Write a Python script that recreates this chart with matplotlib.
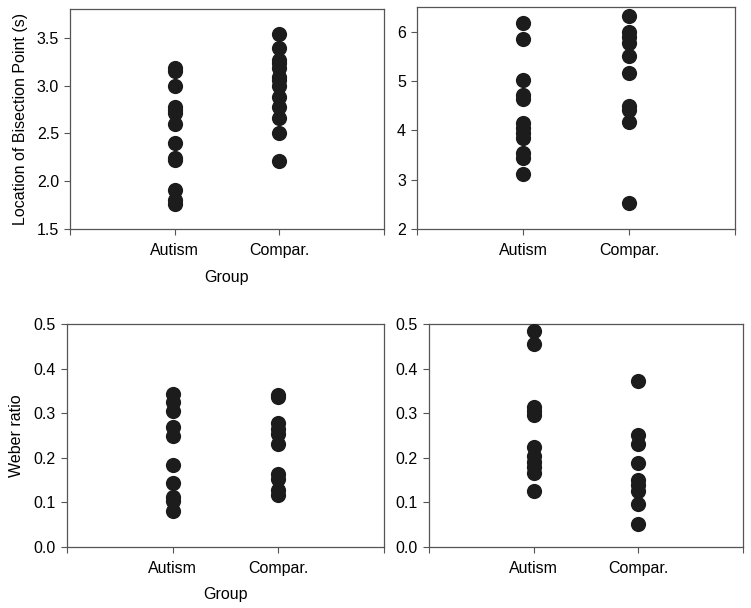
import matplotlib
matplotlib.use('Agg')
import matplotlib.pyplot as plt

plt.rcParams['font.family'] = ['Liberation Sans', 'DejaVu Sans']

groups = ['Autism', 'Compar.']

# bisection point, left panels (s)
bis_autism_a = [3.18, 3.15, 2.99, 2.78, 2.74, 2.71, 2.60, 2.40, 2.24, 2.22, 1.91, 1.80, 1.76]
bis_compar_a = [3.54, 3.39, 3.27, 3.24, 3.18, 3.09, 3.06, 3.00, 2.88, 2.78, 2.66, 2.50, 2.21]

# bisection point, right panels
bis_autism_b = [6.18, 5.85, 5.01, 4.72, 4.64, 4.14, 4.04, 3.94, 3.84, 3.54, 3.43, 3.12]
bis_compar_b = [6.32, 6.00, 5.90, 5.77, 5.50, 5.16, 4.49, 4.41, 4.16, 2.52]

# weber ratio
web_autism_a = [0.343, 0.325, 0.306, 0.269, 0.250, 0.183, 0.143, 0.113, 0.104, 0.081]
web_compar_a = [0.341, 0.336, 0.278, 0.265, 0.254, 0.231, 0.164, 0.153, 0.127, 0.117]
web_autism_b = [0.485, 0.455, 0.315, 0.306, 0.296, 0.225, 0.203, 0.191, 0.180, 0.167, 0.126]
web_compar_b = [0.372, 0.251, 0.231, 0.188, 0.150, 0.139, 0.126, 0.096, 0.052]

FS = 11.5
DOT = '#1c1c1c'
SPINE = '#555555'

fig = plt.figure(figsize=(7.51, 6.08), dpi=100)
ax_tl = fig.add_axes([0.0932, 0.6234, 0.4181, 0.3618])
ax_tr = fig.add_axes([0.5553, 0.6234, 0.4234, 0.3651])
ax_bl = fig.add_axes([0.0892, 0.1003, 0.4221, 0.3668])
ax_br = fig.add_axes([0.5712, 0.1003, 0.4181, 0.3668])


def panel(ax, autism, compar, ylim, yticks, fmt):
    ax.scatter([1] * len(autism), autism, s=120, color=DOT, zorder=3, linewidths=0)
    ax.scatter([2] * len(compar), compar, s=120, color=DOT, zorder=3, linewidths=0)
    ax.set_xlim(0, 3)
    ax.set_ylim(*ylim)
    ax.set_xticks([0, 1, 2, 3])
    ax.set_xticklabels(['', groups[0], groups[1], ''], fontsize=FS)
    ax.set_yticks(yticks)
    ax.set_yticklabels([fmt.format(v) for v in yticks], fontsize=FS)
    ax.tick_params(direction='out', length=4, width=0.8, color=SPINE, pad=4)
    ax.tick_params(axis='x', pad=6)
    for s in ax.spines.values():
        s.set_color(SPINE)
        s.set_linewidth(0.9)


panel(ax_tl, bis_autism_a, bis_compar_a, (1.5, 3.8), [1.5, 2.0, 2.5, 3.0, 3.5], '{:.1f}')
panel(ax_tr, bis_autism_b, bis_compar_b, (2, 6.5), [2, 3, 4, 5, 6], '{:.0f}')
panel(ax_bl, web_autism_a, web_compar_a, (0, 0.5), [0.0, 0.1, 0.2, 0.3, 0.4, 0.5], '{:.1f}')
panel(ax_br, web_autism_b, web_compar_b, (0, 0.5), [0.0, 0.1, 0.2, 0.3, 0.4, 0.5], '{:.1f}')

ax_tl.set_xlabel('Group', fontsize=FS, labelpad=8.5)
ax_tl.set_ylabel('Location of Bisection Point (s)', fontsize=FS, labelpad=6)
ax_bl.set_xlabel('Group', fontsize=FS, labelpad=8)
ax_bl.set_ylabel('Weber ratio', fontsize=FS, labelpad=6.5)

fig.savefig('out.png', dpi=100)
